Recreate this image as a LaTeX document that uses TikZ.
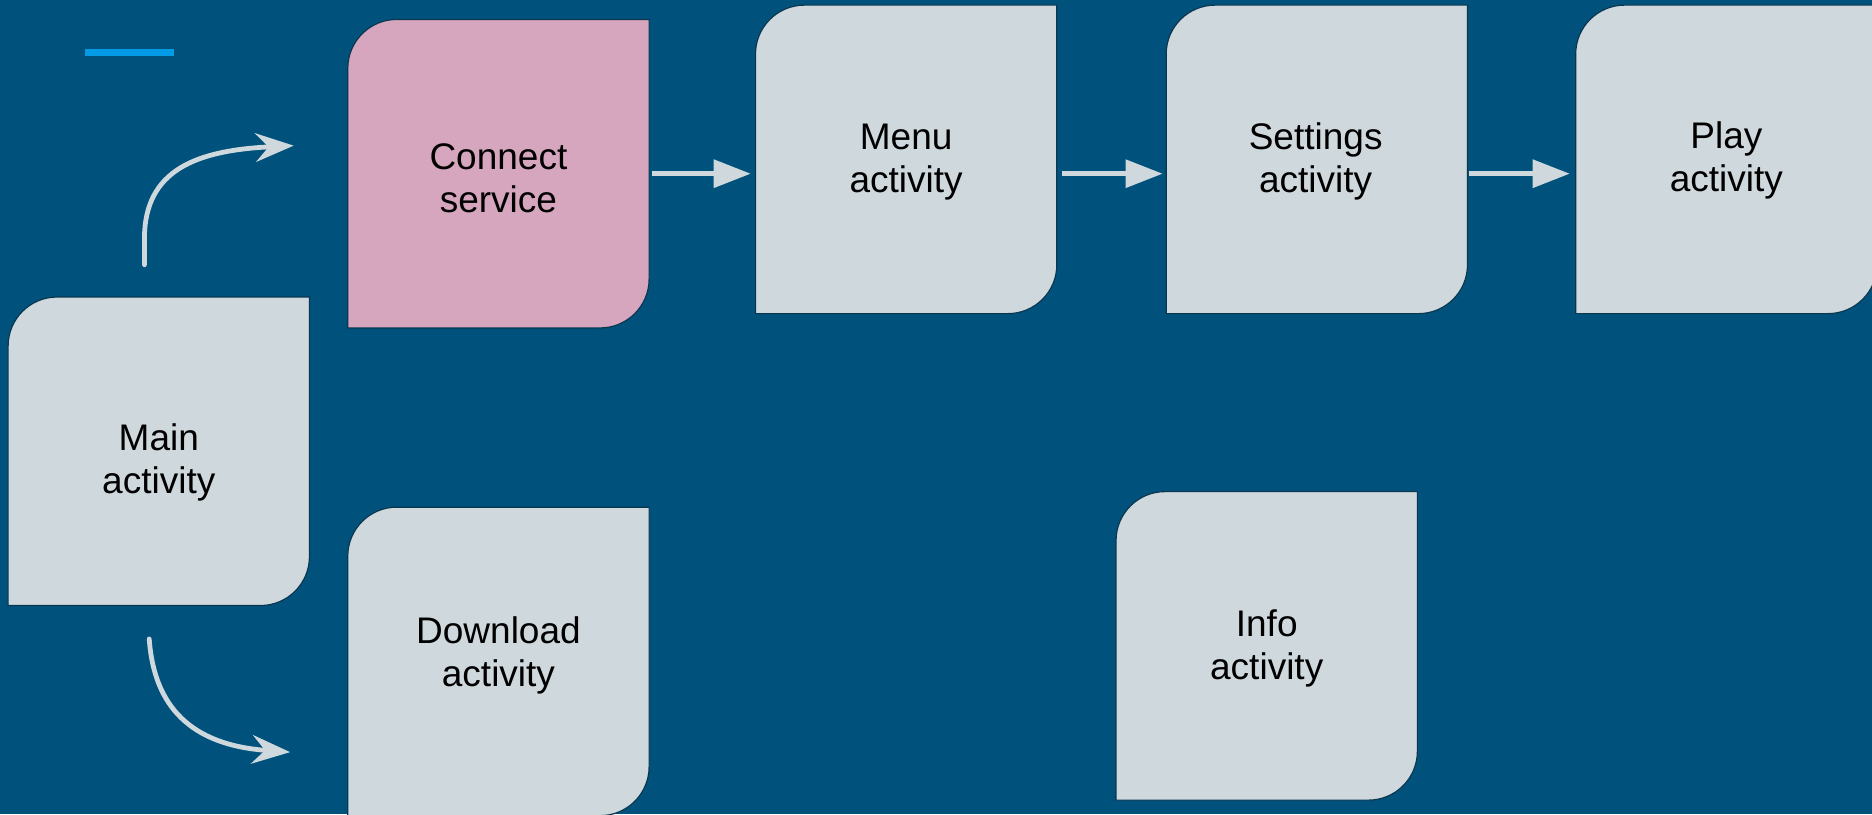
\documentclass[tikz,border=0pt]{standalone}
\usepackage{fontspec}
\setmainfont{Liberation Sans}
\usetikzlibrary{calc,arrows.meta}
\definecolor{bgc}{RGB}{0,82,124}
\definecolor{boxc}{HTML}{CFD8DC}
\definecolor{pinkc}{HTML}{D5A6BD}
\definecolor{edgec}{RGB}{10,55,80}
\definecolor{dashc}{HTML}{039BE5}
\pgfdeclarelayer{back}
\pgfdeclarelayer{shapes}
\pgfsetlayers{back,shapes,main}
\def\rr{41pt}
\newcommand\actshape[2]{%
  \begin{pgfonlayer}{shapes}
  \path[fill=#2, draw=edgec, line width=1pt]
    (#1.south west) -- ($(#1.north west)+(0,-\rr)$)
    .. controls ($(#1.north west)+(0,-0.448*\rr)$) and ($(#1.north west)+(0.448*\rr,0)$) .. ($(#1.north west)+(\rr,0)$)
    -- (#1.north east) -- ($(#1.south east)+(0,\rr)$)
    .. controls ($(#1.south east)+(0,0.448*\rr)$) and ($(#1.south east)+(-0.448*\rr,0)$) .. ($(#1.south east)+(-\rr,0)$)
    -- cycle;
  \end{pgfonlayer}}
\tikzset{
  actbox/.style={minimum width=252pt, minimum height=258pt, inner sep=0pt},
  lbl/.style={inner sep=0pt, align=center, text=black, font=\fontsize{31}{36}\selectfont},
  sarr/.style={draw=boxc, line width=4pt, -{Triangle[length=31pt,width=23pt]}},
  carr/.style={draw=boxc, line width=4pt, line cap=round,
    -{Stealth[length=32pt,width=24pt,inset=11pt]}}
}
\begin{document}
\begin{tikzpicture}[x=1pt,y=1pt]
\useasboundingbox (0,0) rectangle (1568,682);
\begin{pgfonlayer}{back}
\fill[bgc] (0,0) rectangle (1568,682);
\end{pgfonlayer}
\draw[dashc, line width=6pt] (71,638) coordinate (d1) -- (146,638) coordinate (d2);

\node[actbox] (main) at (133,304) {};
\node[actbox] (connect) at (417.5,536.5) {};
\node[actbox] (menu) at (759,548.5) {};
\node[actbox] (settings) at (1103,548.5) {};
\node[actbox] (play) at (1446,548.5) {};
\node[actbox] (download) at (417.5,128) {};
\node[actbox] (info) at (1061,141) {};

\node[lbl] (mainlbl) at ($(main)+(0,-9)$) {Main\\activity};
\node[lbl] (connectlbl) at ($(connect)+(0,-4)$) {Connect\\service};
\node[lbl] (menulbl) at ($(menu)+(0,-2.5)$) {Menu\\activity};
\node[lbl] (settingslbl) at ($(settings)+(-1,-1.5)$) {Settings\\activity};
\node[lbl] (playlbl) at ($(play)+(0,-1)$) {Play\\activity};
\node[lbl] (downloadlbl) at ($(download)+(0,5)$) {Download\\activity};
\node[lbl] (infolbl) at ($(info)+(0,-2.5)$) {Info\\activity};

\actshape{main}{boxc}
\actshape{connect}{pinkc}
\actshape{menu}{boxc}
\actshape{settings}{boxc}
\actshape{play}{boxc}
\actshape{download}{boxc}
\actshape{info}{boxc}

\draw[sarr] ([xshift=2pt]connect.east) -- ([xshift=-4pt]connect.east -| menu.west);
\draw[sarr] ([xshift=4pt]menu.east |- connect.east) -- ([xshift=-3pt]settings.west |- connect.east);
\draw[sarr] ([xshift=1pt]settings.east |- connect.east) -- ([xshift=-5pt]play.west |- connect.east);

\coordinate (u0) at ($(main.north)+(-12,27)$);
\coordinate (u1) at (246,560);
\draw[carr] (u0) -- ++(0,22) .. controls (121,540) and (165,556) .. (u1);

\coordinate (v0) at ($(main.south)+(-8,-28)$);
\coordinate (v1) at (243,52);
\draw[carr] (v0) .. controls (129,90) and (160,58) .. (v1);
\end{tikzpicture}
\end{document}
